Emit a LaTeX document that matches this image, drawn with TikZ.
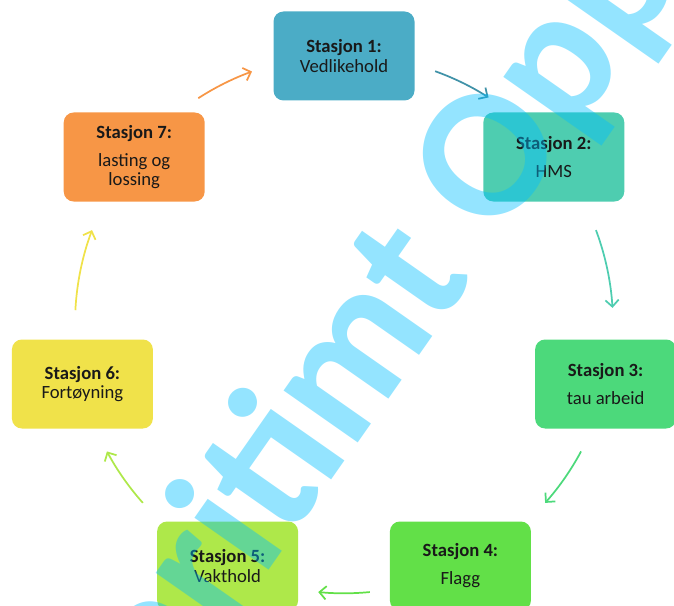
\documentclass[tikz,border=0pt]{standalone}
\usepackage{fontspec}
\setmainfont{Carlito}
\usetikzlibrary{arrows.meta}

\definecolor{stasjonone}{RGB}{75,172,198}
\definecolor{stasjontwo}{RGB}{78,205,176}
\definecolor{stasjonthree}{RGB}{76,217,123}
\definecolor{stasjonfour}{RGB}{98,224,72}
\definecolor{stasjonfive}{RGB}{174,232,74}
\definecolor{stasjonsix}{RGB}{240,226,74}
\definecolor{stasjonseven}{RGB}{247,150,70}
\definecolor{wmblue}{RGB}{0,190,255}

\tikzset{
    stasjonbox/.style={rounded corners=7.5pt, minimum width=105.75pt, minimum height=66.75pt,
        align=center, text=black!90, font=\fontsize{14}{14.3}\selectfont},
    cyclearrow/.style={line width=1.3pt, -{Straight Barb[length=5pt,width=10pt]}},
    watermark/.style={text=wmblue, text opacity=0.42, font=\fontsize{140}{140}\selectfont\bfseries}
}

\begin{document}
\begin{tikzpicture}[x=0.75pt, y=-0.75pt]

	\useasboundingbox (0,0) rectangle (674,606);
	\clip (0,0) rectangle (674,606);
	\coordinate (c) at (344,324.3);

	\node[stasjonbox, fill=stasjonone] (s1) at (344,56) {\textbf{Stasjon 1:}\\Vedlikehold};
	\node[stasjonbox, fill=stasjontwo] (s2) at (553.8,157) {\textbf{Stasjon 2:}\\[6.7pt]HMS};
	\node[stasjonbox, fill=stasjonthree] (s3) at (605.6,384) {\textbf{Stasjon 3:}\\[6.7pt]tau arbeid};
	\node[stasjonbox, fill=stasjonfour] (s4) at (460.4,566) {\textbf{Stasjon 4:}\\[6.7pt]Flagg};
	\node[stasjonbox, fill=stasjonfive] (s5) at (227.6,566) {\textbf{Stasjon 5:}\\Vakthold};
	\node[stasjonbox, fill=stasjonsix] (s6) at (82.4,384) {\textbf{Stasjon 6:}\\Fortøyning};
	\node[stasjonbox, fill=stasjonseven] (s7) at (134.2,157) {\textbf{Stasjon 7:}\\[6.7pt]lasting og\\lossing};

	\draw[cyclearrow, stasjonone!85!black] ([shift={(-70.2:269)}]c) arc[start angle=-70.2, end angle=-57.5, radius=269];
	\draw[cyclearrow, stasjontwo] ([shift={(-20.5:269)}]c) arc[start angle=-20.5, end angle=-3.5, radius=269];
	\draw[cyclearrow, stasjonthree] ([shift={(28.2:269)}]c) arc[start angle=28.2, end angle=41.6, radius=269];
	\draw[cyclearrow, stasjonfour] ([shift={(84.5:269)}]c) arc[start angle=84.5, end angle=95.5, radius=269];
	\draw[cyclearrow, stasjonfive] ([shift={(138.4:269)}]c) arc[start angle=138.4, end angle=151.8, radius=269];
	\draw[cyclearrow, stasjonsix] ([shift={(183:269)}]c) arc[start angle=183, end angle=200.5, radius=269];
	\draw[cyclearrow, stasjonseven] ([shift={(237.2:269)}]c) arc[start angle=237.2, end angle=250, radius=269];

	\node[watermark, rotate=55, anchor=base west, inner sep=0pt] (wm) at (78,843) {Maritimt Opplæring};

\end{tikzpicture}
\end{document}
